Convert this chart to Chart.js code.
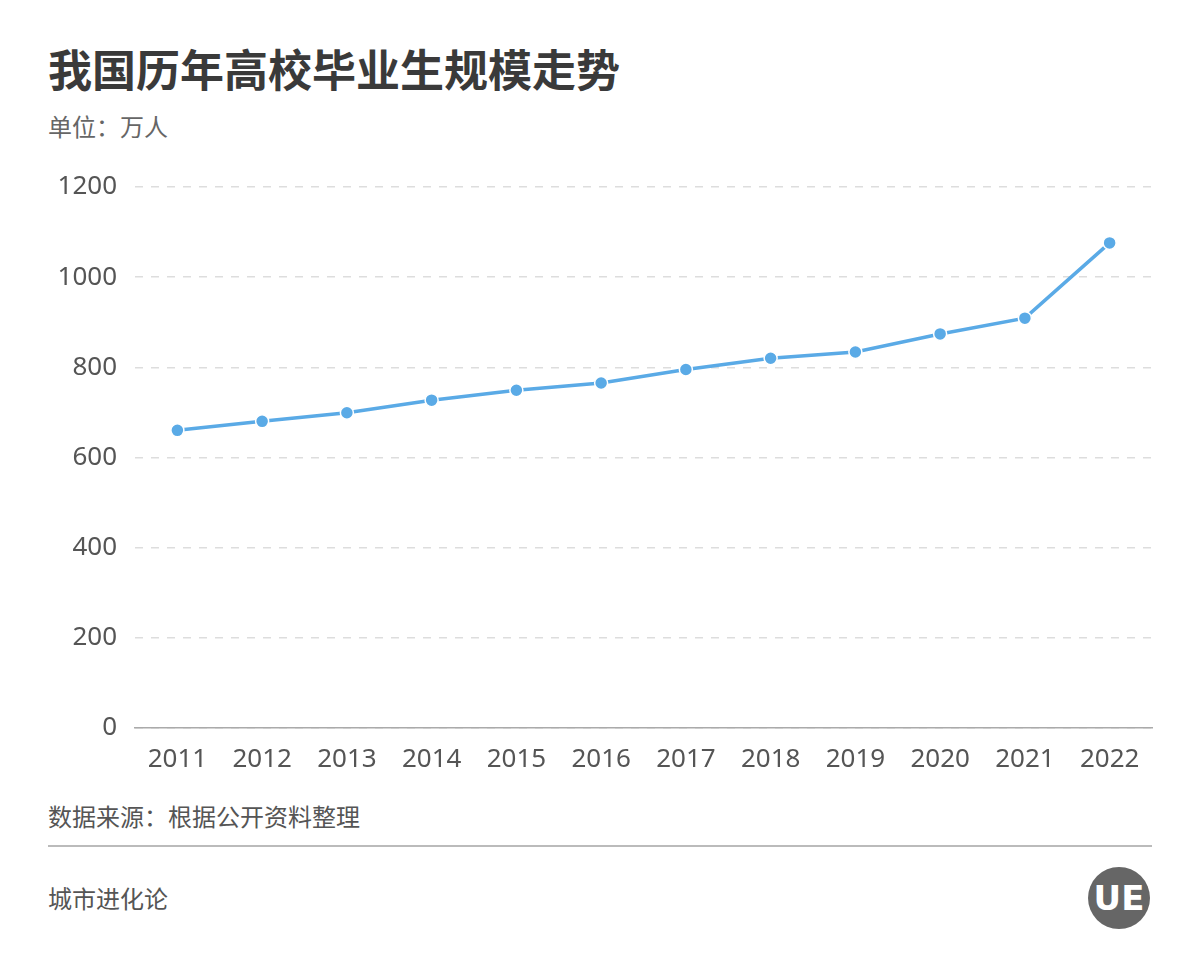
<!DOCTYPE html>
<html><head><meta charset="utf-8">
<script src="https://cdn.jsdelivr.net/npm/chart.js@4/dist/chart.umd.min.js"></script>
<style>
body{margin:0;width:1200px;height:960px;background:#fff;font-family:"Noto Sans CJK SC","Noto Sans",sans-serif;position:relative;overflow:hidden}
.t{position:absolute;left:48px;top:36px;font-size:44px;font-weight:bold;color:#3a3a3a}
.s{position:absolute;left:48px;top:108px;font-size:24px;color:#666}
.src{position:absolute;left:48px;top:798px;font-size:24px;color:#555}
.line{position:absolute;left:48px;right:48px;top:845px;border-top:2px solid #bbb}
.b{position:absolute;left:48px;top:880px;font-size:24px;color:#555}
.logo{position:absolute;left:1088px;top:867px;width:62px;height:62px;border-radius:50%;background:#666;color:#fff;font-weight:bold;font-size:34px;text-align:center;line-height:62px;font-family:"DejaVu Sans"}
canvas{position:absolute;left:0;top:0}
</style></head><body>
<div class="t">我国历年高校毕业生规模走势</div>
<div class="s">单位：万人</div>
<div class="src">数据来源：根据公开资料整理</div>
<div class="line"></div>
<div class="b">城市进化论</div>
<div class="logo">UE</div>
<canvas id="c" width="1200" height="960"></canvas>
<script>
const years=["2011","2012","2013","2014","2015","2016","2017","2018","2019","2020","2021","2022"];
const graduates=[660,680,699,727,749,765,795,820,834,874,909,1076];
const yTicks=[0,200,400,600,800,1000,1200];
new Chart(document.getElementById('c'),{type:'line',
data:{labels:years,datasets:[{data:graduates,borderColor:'#5aaae6',backgroundColor:'#5aaae6',borderWidth:3.5,pointRadius:6.5,pointBorderColor:'#fff',pointBorderWidth:1.5,tension:0}]},
options:{responsive:false,animation:false,plugins:{legend:{display:false},tooltip:{enabled:false}},
layout:{padding:{top:187,bottom:177,right:48,left:0}},
scales:{
x:{offset:true,grid:{display:false},border:{color:'#aaa',width:1.5},ticks:{color:'#555',font:{size:26,family:'Noto Sans'},padding:8}},
y:{min:0,max:1200,afterBuildTicks:s=>{s.ticks=yTicks.map(v=>({value:v}))},afterFit:s=>{s.width=135},grid:{color:'#ddd',lineWidth:1.5,drawTicks:false},border:{display:false,dash:[8,8]},ticks:{color:'#555',font:{size:26,family:'Noto Sans'},padding:18,callback:v=>String(v)}}
}}});
</script></body></html>
